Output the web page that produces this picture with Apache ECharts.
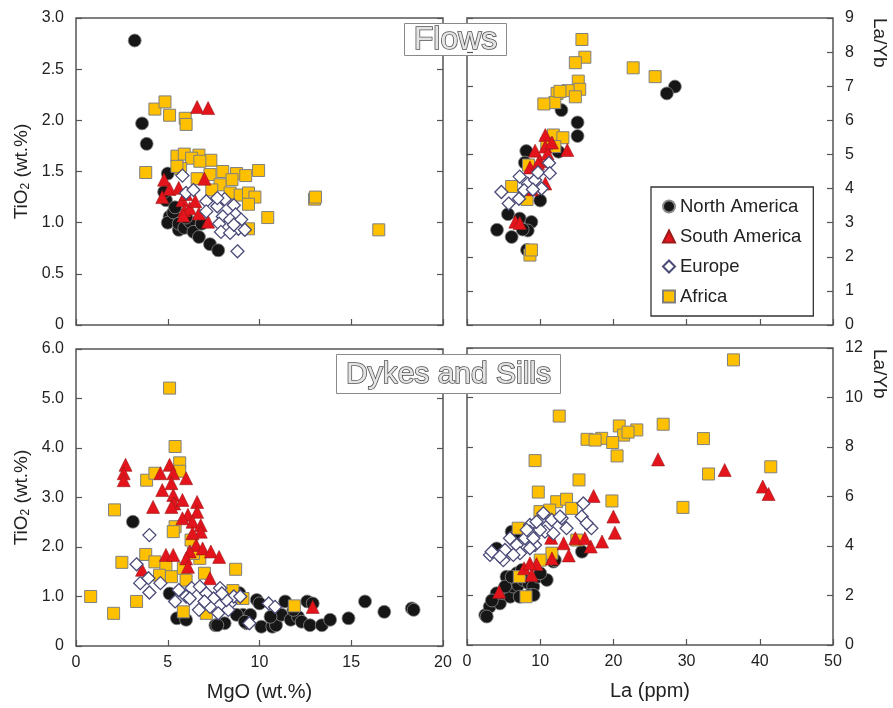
<!DOCTYPE html>
<html>
<head>
<meta charset="utf-8">
<script src="https://cdn.jsdelivr.net/npm/echarts@6/dist/echarts.min.js"></script>
<style>
  html, body { margin: 0; padding: 0; background: #fff; }
  #chart { width: 893px; height: 708px; }
</style>
</head>
<body>
<div id="chart"></div>
<script>
// ---- data: [x, y] ----
// Flows : MgO (wt.%) vs TiO2 (wt.%)
var naFlowsTi = [[3.2,2.78],[3.6,1.97],[3.85,1.77],[5.0,1.48],[4.9,1.22],[5.1,1.06],[5.0,1.0],[5.3,1.1],[5.6,0.93],[5.6,0.99],[5.9,0.95],[6.2,1.01],[6.4,0.91],[6.7,0.86],[6.85,0.99],[7.3,0.79],[7.75,0.73],[5.4,1.15],[6.0,1.05],[4.8,1.3]];
var saFlowsTi = [[6.6,2.13],[7.2,2.12],[7.0,1.43],[4.8,1.42],[4.7,1.25],[5.1,1.33],[5.6,1.34],[5.8,1.22],[5.9,1.12],[6.2,1.14],[5.85,1.07],[6.7,1.09],[7.2,1.01],[6.5,1.21],[6.0,1.28]];
var euFlowsTi = [[5.8,1.46],[6.0,1.29],[6.4,1.32],[7.1,1.21],[7.7,1.16],[8.1,1.23],[7.1,1.11],[8.0,1.06],[8.6,1.17],[8.7,1.08],[7.8,0.99],[8.4,1.03],[9.0,1.03],[8.85,0.94],[7.9,0.91],[8.4,0.90],[9.2,0.93],[8.8,0.72],[7.7,1.24],[8.6,0.98]];
var afFlowsTi = [[4.3,2.11],[4.85,2.18],[5.1,2.05],[5.95,2.02],[6.0,1.96],[3.8,1.49],[5.5,1.65],[5.9,1.67],[6.7,1.66],[7.35,1.61],[6.3,1.63],[6.75,1.6],[5.7,1.53],[6.6,1.43],[7.3,1.47],[8.0,1.5],[8.75,1.48],[9.25,1.46],[9.95,1.51],[8.5,1.42],[7.85,1.37],[8.4,1.29],[8.95,1.27],[9.4,1.29],[9.75,1.25],[9.4,1.18],[10.45,1.05],[13.0,1.23],[13.05,1.25],[16.5,0.93],[9.4,0.94],[7.4,1.32],[5.5,1.55]];

// Flows : La (ppm) vs La/Yb
var naFlowsLa = [[28.4,6.99],[27.3,6.79],[12.9,6.3],[15.1,5.94],[15.1,5.54],[8.1,5.1],[7.9,4.76],[10.0,3.65],[5.6,3.25],[4.1,2.79],[6.1,2.58],[7.2,3.12],[8.8,3.02],[8.3,2.77],[8.2,2.2],[12.5,5.08],[7.6,2.8]];
var saFlowsLa = [[10.7,5.57],[9.3,5.11],[10.7,5.23],[13.7,5.13],[8.6,4.62],[10.0,4.8],[9.7,4.74],[10.7,4.15],[8.9,3.98],[6.6,3.03],[7.2,2.99],[11.0,5.03],[11.6,5.35]];
var euFlowsLa = [[4.7,3.9],[5.7,3.56],[7.1,3.7],[7.2,4.35],[8.3,4.14],[9.3,4.25],[9.7,4.47],[10.2,4.0],[11.2,4.75],[11.3,4.45],[7.8,3.95],[9.0,3.97]];
var afFlowsLa = [[15.7,8.37],[16.1,7.85],[14.8,7.69],[22.7,7.54],[25.7,7.28],[15.2,7.15],[15.4,6.91],[13.8,6.87],[12.3,6.79],[14.8,6.69],[12.0,6.52],[10.5,6.48],[11.8,5.57],[13.1,5.49],[12.0,5.23],[6.1,4.06],[8.4,4.69],[8.2,3.68],[8.6,2.05],[8.8,2.2],[10.9,5.32],[12.7,6.85]];

// Dykes and Sills : MgO (wt.%) vs TiO2 (wt.%)
var naDykesTi = [[3.1,2.51],[5.5,0.56],[6.0,0.53],[7.6,0.42],[8.1,0.46],[9.1,0.63],[9.5,0.63],[9.85,0.93],[10.0,0.86],[10.1,0.39],[10.7,0.39],[10.9,0.42],[11.2,0.63],[11.4,0.9],[11.7,0.53],[12.1,0.59],[12.3,0.49],[12.6,0.9],[12.9,0.86],[12.75,0.42],[13.4,0.42],[13.85,0.53],[14.85,0.56],[15.75,0.9],[16.8,0.69],[18.3,0.76],[18.4,0.73],[9.3,0.46],[10.6,0.59],[8.75,0.63],[11.85,0.73],[5.1,1.06],[8.9,1.07],[9.2,0.49],[7.7,0.42]];
var saDykesTi = [[2.7,3.66],[2.6,3.49],[2.6,3.35],[5.1,3.66],[4.6,3.49],[5.3,3.49],[6.0,3.39],[5.2,3.29],[4.7,3.15],[5.3,3.05],[5.35,2.88],[5.8,2.95],[5.2,2.81],[4.2,2.81],[6.6,2.91],[6.6,2.71],[6.1,2.65],[5.8,2.58],[6.35,2.51],[6.8,2.44],[6.8,2.31],[6.35,2.28],[6.55,2.04],[6.9,1.97],[7.35,1.91],[7.8,1.8],[6.2,1.91],[4.9,1.84],[5.3,1.84],[6.0,1.77],[7.3,1.37],[12.9,0.79],[6.1,1.6],[3.6,1.54]];
var euDykesTi = [[4.0,2.24],[3.3,1.65],[3.5,1.27],[3.95,1.37],[4.0,1.08],[4.6,1.27],[5.6,1.13],[5.4,0.9],[6.0,1.0],[6.3,1.17],[6.7,0.73],[7.1,1.06],[7.5,0.96],[7.85,1.17],[7.75,0.66],[8.4,0.86],[8.6,1.0],[8.95,1.0],[9.45,0.46],[10.5,0.86],[10.85,0.79],[6.75,1.2],[7.3,0.79],[8.3,0.73],[6.2,0.96],[8.2,0.93],[7.95,1.06],[7.0,0.9]];
var afDykesTi = [[5.1,5.21],[5.4,4.03],[5.65,3.7],[5.65,3.53],[3.85,3.35],[4.3,3.49],[2.1,2.75],[5.4,2.41],[5.3,2.31],[6.27,2.14],[3.8,1.85],[2.5,1.69],[4.3,1.7],[4.9,1.62],[4.55,1.43],[5.2,1.4],[5.85,1.57],[6.75,1.77],[7.0,1.47],[8.7,1.55],[0.8,1.0],[3.3,0.9],[2.05,0.66],[5.85,0.69],[8.55,1.12],[11.9,0.81],[9.1,0.96],[7.1,0.66],[6.0,1.33],[6.4,1.87]];

// Dykes and Sills : La (ppm) vs La/Yb
var naDykesLa = [[2.5,1.21],[3.1,1.55],[3.8,1.82],[4.5,1.68],[4.95,2.09],[5.9,1.95],[6.3,2.36],[7.0,2.42],[7.7,2.63],[8.4,2.5],[9.05,2.36],[7.2,1.95],[8.6,2.02],[9.7,2.76],[10.9,2.63],[5.4,2.76],[6.8,2.9],[4.05,3.9],[6.1,4.58],[11.8,3.37],[15.7,3.77],[2.7,1.15],[4.05,2.09],[5.2,2.36],[6.1,2.76],[9.1,2.02],[10.0,2.9],[12.0,3.43],[7.5,3.03],[6.8,4.44],[3.4,1.8]];
var saDykesLa = [[26.1,7.5],[35.2,7.07],[40.4,6.4],[41.2,6.1],[17.3,6.02],[20.0,5.19],[20.2,4.54],[18.45,4.18],[16.9,3.98],[14.8,4.31],[13.2,4.11],[11.5,4.33],[13.9,3.62],[11.6,3.5],[9.5,3.27],[7.8,3.1],[8.84,2.83],[4.4,2.15],[16.1,4.31],[8.6,3.3]];
var euDykesLa = [[3.14,3.64],[4.96,3.43],[5.87,4.31],[6.79,4.04],[7.24,3.71],[8.6,4.85],[7.92,4.31],[9.29,4.04],[10.0,5.05],[10.43,5.32],[11.57,5.05],[12.93,5.12],[13.6,4.72],[15.67,5.19],[15.89,5.72],[17.0,4.72],[8.6,4.58],[5.19,3.84],[6.33,3.64],[8.15,4.65],[3.37,3.77],[4.5,3.57],[16.35,4.92],[9.06,4.31],[8.6,3.91],[10.65,4.58],[11.8,4.51],[9.97,4.65],[9.5,4.98],[12.7,5.19]];
var afDykesLa = [[36.4,11.52],[12.6,9.25],[26.8,8.92],[20.8,8.85],[23.2,8.69],[21.4,8.48],[16.4,8.31],[18.4,8.35],[17.5,8.28],[19.9,8.18],[20.5,7.64],[32.3,8.34],[9.3,7.45],[41.5,7.2],[33.0,6.91],[15.3,6.67],[9.74,6.18],[29.5,5.56],[19.8,5.82],[12.25,5.79],[13.6,5.89],[9.97,5.39],[11.3,5.45],[14.3,5.52],[7.0,4.72],[11.6,3.71],[10.0,3.43],[7.15,2.76],[8.06,1.95],[15.0,4.24],[22.0,8.6]];

var regions = ['North America', 'South America', 'Europe', 'Africa'];

// ---- styles ----
var FONT = 'Liberation Sans, Arial, sans-serif';
var FRAME = '#555';
var styleOf = {
	'North America': { symbol: 'circle', size: 13, z: 1, item: { color: '#161616', borderColor: '#8a8a8a', borderWidth: 0.8, opacity: 1 } },
	'Africa': { symbol: 'rect', size: 12, z: 2, item: { color: '#ffc000', borderColor: '#7f7f7f', borderWidth: 1, opacity: 1 } },
	'South America': { symbol: 'triangle', size: 13, z: 3, item: { color: '#e3141b', borderColor: '#9c1a1a', borderWidth: 0.6, opacity: 1 } },
	'Europe': { symbol: 'diamond', size: 13, z: 4, item: { color: '#ffffff', borderColor: '#4a4a78', borderWidth: 1.3, opacity: 1 } }
};

var dom = document.getElementById('chart');
var myChart = echarts.init(dom, null, { renderer: 'canvas' });

function labelFmt1(v) { return v === 0 ? '0' : v.toFixed(1); }

function xAx(grid, max, interval, showLabel, name) {
	return {
		type: 'value', gridIndex: grid, min: 0, max: max, interval: interval,
		axisLine: { show: false },
		axisTick: { show: true, inside: true, length: 6, lineStyle: { color: FRAME, width: 1.2 } },
		axisLabel: { show: showLabel, margin: 9, color: '#222', fontSize: 16, fontFamily: FONT },
		splitLine: { show: false },
		name: name || '', nameLocation: 'middle', nameGap: 36,
		nameTextStyle: { color: '#222', fontSize: 20, fontFamily: FONT }
	};
}

function yAx(grid, pos, max, interval, showLabel, fmt) {
	return {
		type: 'value', gridIndex: grid, position: pos, min: 0, max: max, interval: interval,
		axisLine: { show: false },
		axisTick: { show: true, inside: true, length: 6, lineStyle: { color: FRAME, width: 1.2 } },
		axisLabel: { show: showLabel, margin: 12, color: '#222', fontSize: 16, fontFamily: FONT, formatter: fmt },
		splitLine: { show: false }
	};
}

var tiName = '{t|TiO}{s|2}{t| (wt.%)}';
var tiNameStyle = {
	color: '#222', fontFamily: FONT,
	rich: {
		t: { fontSize: 19, fontFamily: FONT, color: '#222' },
		s: { fontSize: 12, fontFamily: FONT, color: '#222', padding: [9, 0, 0, 0] }
	}
};

var yAxes = [
	yAx(0, 'left', 3, 0.5, true, labelFmt1),
	yAx(0, 'right', 3, 0.5, false),
	yAx(1, 'left', 9, 1, false),
	yAx(1, 'right', 9, 1, true),
	yAx(2, 'left', 6, 1, true, labelFmt1),
	yAx(2, 'right', 6, 1, false),
	yAx(3, 'left', 12, 2, false),
	yAx(3, 'right', 12, 2, true)
];
yAxes[0].name = tiName; yAxes[0].nameLocation = 'middle'; yAxes[0].nameGap = 44; yAxes[0].nameTextStyle = tiNameStyle;
yAxes[4].name = tiName; yAxes[4].nameLocation = 'middle'; yAxes[4].nameGap = 44; yAxes[4].nameTextStyle = tiNameStyle;

var panels = [
	{ x: 0, y: 0, data: { 'North America': naFlowsTi, 'South America': saFlowsTi, 'Europe': euFlowsTi, 'Africa': afFlowsTi } },
	{ x: 1, y: 3, data: { 'North America': naFlowsLa, 'South America': saFlowsLa, 'Europe': euFlowsLa, 'Africa': afFlowsLa } },
	{ x: 2, y: 4, data: { 'North America': naDykesTi, 'South America': saDykesTi, 'Europe': euDykesTi, 'Africa': afDykesTi } },
	{ x: 3, y: 7, data: { 'North America': naDykesLa, 'South America': saDykesLa, 'Europe': euDykesLa, 'Africa': afDykesLa } }
];

var series = [];
panels.forEach(function(p) {
	regions.forEach(function(r) {
		var s = styleOf[r];
		series.push({
			type: 'scatter', name: r, xAxisIndex: p.x, yAxisIndex: p.y,
			data: p.data[r], symbol: s.symbol, symbolSize: s.size, z: s.z,
			itemStyle: s.item, emphasis: { disabled: true }
		});
	});
});

function titleBox(x, y, w, h, text, size) {
	return {
		type: 'group', left: x, top: y, z: 100,
		children: [
			{ type: 'rect', shape: { x: 0, y: 0, width: w, height: h }, style: { fill: '#fff', stroke: '#8a8a8a', lineWidth: 1 } },
			{ type: 'text', x: w / 2, y: h / 2 + 1, style: { text: text, font: size + 'px ' + FONT, fill: '#e4e4e4', stroke: '#505050', lineWidth: 1.6, textAlign: 'center', textVerticalAlign: 'middle' } }
		]
	};
}

var option = {
	backgroundColor: '#fff',
	animation: false,
	grid: [
		{ left: 76, width: 367, top: 18, height: 307, show: true, borderColor: FRAME, borderWidth: 1.5, backgroundColor: 'transparent' },
		{ left: 467, width: 366, top: 18, height: 307, show: true, borderColor: FRAME, borderWidth: 1.5, backgroundColor: 'transparent' },
		{ left: 76, width: 367, top: 349, height: 297, show: true, borderColor: FRAME, borderWidth: 1.5, backgroundColor: 'transparent' },
		{ left: 467, width: 366, top: 348, height: 297, show: true, borderColor: FRAME, borderWidth: 1.5, backgroundColor: 'transparent' }
	],
	xAxis: [
		xAx(0, 20, 5, false),
		xAx(1, 50, 10, false),
		xAx(2, 20, 5, true, 'MgO (wt.%)'),
		xAx(3, 50, 10, true, 'La (ppm)')
	],
	yAxis: yAxes,
	legend: {
		data: regions, orient: 'vertical', left: 651, top: 187,
		padding: [10, 12, 10, 11], itemGap: 11, itemWidth: 12, itemHeight: 12,
		borderColor: '#333', borderWidth: 1.3, backgroundColor: '#fff',
		textStyle: { fontSize: 18.5, fontFamily: FONT, color: '#222' },
		selectedMode: false
	},
	graphic: [
		titleBox(404, 23, 102, 32, 'Flows', 32),
		titleBox(336, 354, 224, 39, 'Dykes and Sills', 30),
		{ type: 'text', x: 879, y: 18, rotation: -Math.PI / 2, style: { text: 'La/Yb', font: '19px ' + FONT, fill: '#222', textAlign: 'left', textVerticalAlign: 'middle' } },
		{ type: 'text', x: 879, y: 349, rotation: -Math.PI / 2, style: { text: 'La/Yb', font: '19px ' + FONT, fill: '#222', textAlign: 'left', textVerticalAlign: 'middle' } }
	],
	series: series
};

myChart.setOption(option);
</script>
</body>
</html>
